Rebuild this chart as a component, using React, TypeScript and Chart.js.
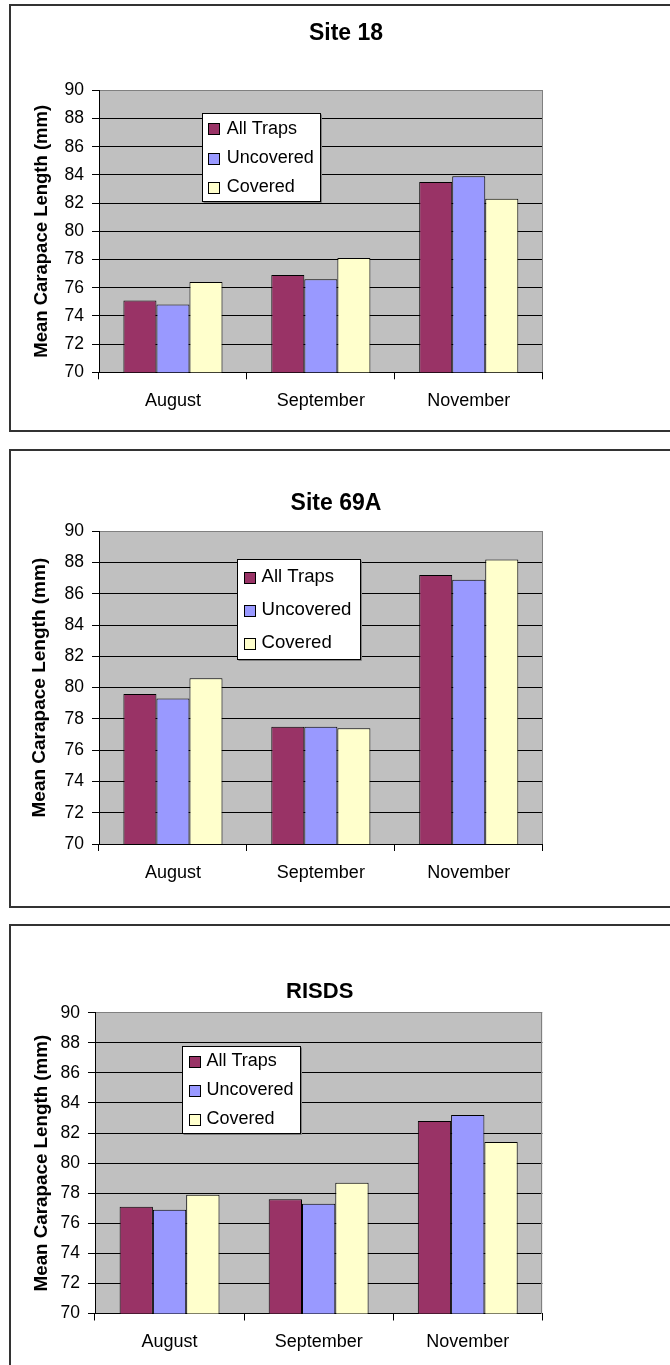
import React, { useEffect, useRef } from 'react';
import { Chart, registerables } from 'chart.js';

Chart.register(...registerables);

// ---------- data ----------
const months = ['August', 'September', 'November'];
const seriesNames = ['All Traps', 'Uncovered', 'Covered'];
const seriesColors = ['#993366', '#9999FF', '#FFFFCC'];
const yMin = 70;
const yMax = 90;
const yStep = 2;
const yAxisTitle = 'Mean Carapace Length (mm)';

const site18Title = 'Site 18';
const site18AllTraps = [75.1, 76.9, 83.5];
const site18Uncovered = [74.8, 76.6, 83.9];
const site18Covered = [76.4, 78.1, 82.3];

const site69ATitle = 'Site 69A';
const site69AAllTraps = [79.6, 77.5, 87.2];
const site69AUncovered = [79.3, 77.5, 86.9];
const site69ACovered = [80.6, 77.4, 88.2];

const risdsTitle = 'RISDS';
const risdsAllTraps = [77.1, 77.6, 82.8];
const risdsUncovered = [76.9, 77.3, 83.2];
const risdsCovered = [77.9, 78.7, 81.4];

// ---------- layout (page coordinates) ----------
const FF = '"Liberation Sans", Arial, Helvetica, sans-serif';

type Panel = {
  title: string;
  series: number[][];
  box: { top: number; height: number };
  canvasTop: number;
  canvasH: number;
  plot: { L: number; R: number; T: number; B: number };
  titlePos: { x: number; y: number; size: number };
  yTitle: { cx: number; size: number };
  legend: { x: number; y: number; w: number; h: number; font: number; spacing: number; sq: number; sqOff: number; textOff: number };
};

const panels: Panel[] = [
  {
    title: site18Title,
    series: [site18AllTraps, site18Uncovered, site18Covered],
    box: { top: 4, height: 428 },
    canvasTop: 0,
    canvasH: 430,
    plot: { L: 99, R: 542.7, T: 90.3, B: 372.3 },
    titlePos: { x: 346, y: 33.7, size: 23 },
    yTitle: { cx: 42.3, size: 18.5 },
    legend: { x: 201.7, y: 113.3, w: 117.6, h: 87.7, font: 18, spacing: 29.2, sq: 11, sqOff: 6.6, textOff: 25 },
  },
  {
    title: site69ATitle,
    series: [site69AAllTraps, site69AUncovered, site69ACovered],
    box: { top: 449, height: 459 },
    canvasTop: 440,
    canvasH: 466,
    plot: { L: 99, R: 542.7, T: 531.3, B: 844 },
    titlePos: { x: 336, y: 503.3, size: 23 },
    yTitle: { cx: 40.2, size: 19 },
    legend: { x: 237.2, y: 559.3, w: 123, h: 100, font: 18.6, spacing: 33, sq: 11, sqOff: 6.4, textOff: 24.3 },
  },
  {
    title: risdsTitle,
    series: [risdsAllTraps, risdsUncovered, risdsCovered],
    box: { top: 924, height: 520 },
    canvasTop: 920,
    canvasH: 445,
    plot: { L: 95, R: 542.3, T: 1012.7, B: 1313.5 },
    titlePos: { x: 319.7, y: 991.7, size: 22 },
    yTitle: { cx: 41.5, size: 18.8 },
    legend: { x: 182, y: 1045.7, w: 117.6, h: 87, font: 18, spacing: 28.8, sq: 11, sqOff: 6.5, textOff: 24.4 },
  },
];

const X_AXIS_H = 50;

function BarPanel({ p }: { p: Panel }) {
  const ref = useRef<HTMLCanvasElement | null>(null);

  useEffect(() => {
    if (!ref.current) return;
    const top0 = p.canvasTop;
    const padLeft = p.yTitle.cx - 0.6 * p.yTitle.size;
    const yAxisW = p.plot.L - padLeft;
    const padTop = p.plot.T - top0;
    const padRight = 670 - p.plot.R;
    const padBottom = p.canvasH - (p.plot.B - top0) - X_AXIS_H;

    const decor = {
      id: 'decor' + p.title,
      beforeDraw(chart: any) {
        const { ctx, chartArea } = chart;
        const { left, top, right, bottom } = chartArea;
        ctx.save();
        ctx.fillStyle = '#C0C0C0';
        ctx.fillRect(left, top, right - left, bottom - top);
        ctx.restore();
      },
      beforeDatasetsDraw(chart: any) {
        const { ctx, chartArea } = chart;
        const { top, right, bottom } = chartArea;
        ctx.save();
        ctx.strokeStyle = '#808080';
        ctx.lineWidth = 1;
        const x = Math.round(right) - 0.5;
        ctx.beginPath();
        ctx.moveTo(x, Math.round(top));
        ctx.lineTo(x, Math.round(bottom));
        ctx.stroke();
        ctx.restore();
      },
      afterDraw(chart: any) {
        const { ctx } = chart;
        ctx.save();
        // title
        ctx.fillStyle = '#000';
        ctx.font = `bold ${p.titlePos.size}px ${FF}`;
        ctx.textAlign = 'center';
        ctx.textBaseline = 'middle';
        ctx.fillText(p.title, p.titlePos.x, p.titlePos.y - top0);
        // legend
        const lg = p.legend;
        const lx = Math.round(lg.x) + 0.5;
        const ly = Math.round(lg.y - top0) + 0.5;
        const lw = Math.round(lg.w);
        const lh = Math.round(lg.h);
        ctx.fillStyle = '#FFFFFF';
        ctx.fillRect(lx, ly, lw, lh);
        ctx.strokeStyle = '#000';
        ctx.lineWidth = 1;
        ctx.strokeRect(lx, ly, lw, lh);
        ctx.strokeStyle = '#808080';
        ctx.beginPath();
        ctx.moveTo(lx + 1, ly + lh + 1);
        ctx.lineTo(lx + lw + 1, ly + lh + 1);
        ctx.lineTo(lx + lw + 1, ly + 1);
        ctx.stroke();
        ctx.font = `${lg.font}px ${FF}`;
        ctx.textAlign = 'left';
        ctx.textBaseline = 'middle';
        const cyMid = lg.y - top0 + lg.h / 2;
        chart.data.datasets.forEach((ds: any, i: number) => {
          const cy = cyMid + (i - 1) * lg.spacing + 1;
          const sx = Math.round(lg.x + lg.sqOff) + 0.5;
          const sy = Math.round(cy - lg.sq / 2) + 0.5;
          ctx.fillStyle = ds.backgroundColor;
          ctx.fillRect(sx, sy, lg.sq, lg.sq);
          ctx.strokeStyle = '#000';
          ctx.strokeRect(sx, sy, lg.sq, lg.sq);
          ctx.fillStyle = '#000';
          ctx.fillText(ds.label, lg.x + lg.textOff, cy);
        });
        ctx.restore();
      },
    };

    const chart = new Chart(ref.current, {
      type: 'bar',
      data: {
        labels: months,
        datasets: seriesNames.map((name, i) => ({
          label: name,
          data: p.series[i],
          backgroundColor: seriesColors[i],
          borderColor: '#000000',
          borderWidth: 1,
          borderSkipped: false,
          categoryPercentage: 0.67,
          barPercentage: 1.0,
        })),
      },
      options: {
        responsive: false,
        maintainAspectRatio: false,
        animation: false,
        devicePixelRatio: 1,
        layout: { padding: { left: padLeft, right: padRight, top: padTop, bottom: padBottom } },
        plugins: {
          legend: { display: false },
          title: { display: false },
          tooltip: { enabled: false },
        },
        scales: {
          x: {
            type: 'category',
            offset: true,
            grid: {
              offset: true,
              drawOnChartArea: false,
              drawTicks: true,
              tickLength: 7,
              color: '#000',
              tickColor: '#000',
            },
            border: { display: true, color: '#000', width: 1 },
            ticks: {
              color: '#000',
              padding: 11,
              font: { family: FF, size: 18, lineHeight: 1.2 },
              maxRotation: 0,
              autoSkip: false,
            },
            afterFit: (scale: any) => {
              scale.height = X_AXIS_H;
            },
          },
          y: {
            type: 'linear',
            min: yMin,
            max: yMax,
            grid: {
              drawTicks: true,
              tickLength: 7,
              color: (c: any) => (c.tick && c.tick.value === yMax ? '#808080' : '#000000'),
              tickColor: '#000',
              lineWidth: 1,
            },
            border: { display: true, color: '#000', width: 1 },
            ticks: {
              stepSize: yStep,
              color: '#000',
              padding: 8,
              font: { family: FF, size: 17.5, lineHeight: 1.2 },
            },
            title: {
              display: true,
              text: yAxisTitle,
              color: '#000',
              padding: 0,
              font: { family: FF, size: p.yTitle.size, weight: 'bold', lineHeight: 1.2 },
            },
            afterFit: (scale: any) => {
              scale.width = yAxisW;
            },
          },
        },
      },
      plugins: [decor],
    } as any);

    return () => {
      chart.destroy();
    };
  }, [p]);

  return (
    <>
      <div
        style={{
          position: 'absolute',
          left: 9,
          top: p.box.top,
          width: 700,
          height: p.box.height,
          boxSizing: 'border-box',
          border: '2px solid #333',
          borderRight: 'none',
        }}
      />
      <canvas
        ref={ref}
        width={670}
        height={p.canvasH}
        style={{ position: 'absolute', left: 0, top: p.canvasTop, width: 670, height: p.canvasH }}
      />
    </>
  );
}

export default function App() {
  useEffect(() => {
    document.documentElement.style.overflow = 'hidden';
  }, []);
  return (
    <div
      style={{
        position: 'absolute',
        left: 0,
        top: 0,
        width: 670,
        height: 1365,
        overflow: 'hidden',
        background: '#fff',
      }}
    >
      {panels.map((p) => (
        <BarPanel key={p.title} p={p} />
      ))}
    </div>
  );
}
